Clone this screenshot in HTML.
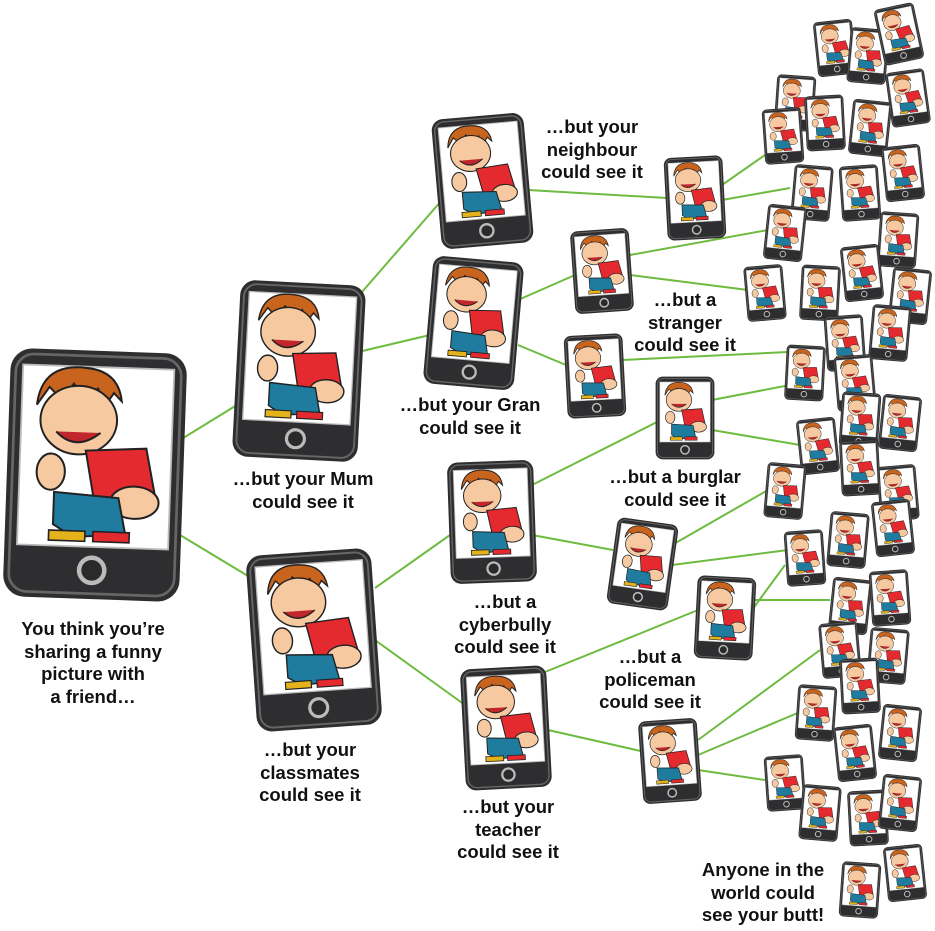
<!DOCTYPE html>
<html><head><meta charset="utf-8">
<style>
html,body{margin:0;padding:0;background:#fff;}
body{width:935px;height:931px;position:relative;overflow:hidden;font-family:"Liberation Sans",Arial,sans-serif;}
svg{position:absolute;left:0;top:0;}
.t{position:absolute;text-align:center;font-weight:bold;font-size:18.5px;line-height:22.5px;color:#111;white-space:nowrap;transform:translateX(-50%);}
</style></head><body>
<svg width="935" height="931" viewBox="0 0 935 931">
<defs>
<symbol id="p" viewBox="0 0 100 140">
<rect x="1" y="1" width="98" height="138" rx="12" fill="#2e2e30"/>
<rect x="4" y="4" width="92" height="132" rx="10" fill="none" stroke="#666" stroke-width="1.5"/>
<rect x="8" y="10" width="84" height="100" fill="#fff" stroke="#bbb" stroke-width="1"/>
<circle cx="50" cy="123" r="7" fill="#2a2a2a" stroke="#bbb" stroke-width="2.5"/>
<g transform="translate(50 60) scale(1.12) translate(-50 -60)">
<path d="M20 35 Q22 14 44 16 Q60 17 62 32 L58 28 L54 34 L50 26 L44 32 L38 24 L32 32 L26 26 Z" fill="#c8641e" stroke="#222" stroke-width="1"/>
<ellipse cx="41" cy="42" rx="19" ry="17" fill="#f6c9a1" stroke="#222" stroke-width="1"/>
<path d="M30 48 Q40 58 52 48" fill="#c0262b" stroke="#222" stroke-width="1"/>
<path d="M45 57 L75 55 L80 78 L50 82 Z" fill="#e52a2f" stroke="#222" stroke-width="1"/>
<ellipse cx="70" cy="82" rx="12" ry="8" fill="#f6c9a1" stroke="#222" stroke-width="1"/>
<path d="M30 78 L62 80 L66 98 L40 100 L30 94 Z" fill="#1f7c9f" stroke="#222" stroke-width="1"/>
<ellipse cx="28" cy="68" rx="7" ry="9" fill="#f6c9a1" stroke="#222" stroke-width="1"/>
<rect x="28" y="97" width="18" height="5" fill="#e5b21b" stroke="#222" stroke-width="0.8"/>
<rect x="50" y="97" width="18" height="5" fill="#e52a2f" stroke="#222" stroke-width="0.8"/>
</g>
</symbol>
</defs>
<g stroke="#6dbb3f" stroke-width="2" fill="none">
<line x1="180" y1="440" x2="245" y2="400"/>
<line x1="180" y1="535" x2="258" y2="582"/>
<line x1="355" y1="300" x2="442" y2="200"/>
<line x1="358" y1="352" x2="430" y2="335"/>
<line x1="375" y1="588" x2="450" y2="535"/>
<line x1="375" y1="640" x2="465" y2="705"/>
<line x1="528" y1="190" x2="667" y2="198"/>
<line x1="518" y1="300" x2="575" y2="275"/>
<line x1="518" y1="345" x2="566" y2="365"/>
<line x1="532" y1="485" x2="657" y2="422"/>
<line x1="532" y1="535" x2="613" y2="550"/>
<line x1="545" y1="672" x2="698" y2="610"/>
<line x1="548" y1="730" x2="645" y2="752"/>
<line x1="722" y1="185" x2="765" y2="155"/>
<line x1="722" y1="200" x2="790" y2="188"/>
<line x1="630" y1="255" x2="768" y2="230"/>
<line x1="630" y1="275" x2="748" y2="290"/>
<line x1="622" y1="360" x2="788" y2="352"/>
<line x1="712" y1="400" x2="790" y2="385"/>
<line x1="712" y1="430" x2="800" y2="445"/>
<line x1="672" y1="545" x2="768" y2="490"/>
<line x1="672" y1="565" x2="788" y2="550"/>
<line x1="752" y1="600" x2="830" y2="600"/>
<line x1="752" y1="610" x2="785" y2="565"/>
<line x1="698" y1="740" x2="820" y2="650"/>
<line x1="698" y1="755" x2="800" y2="712"/>
<line x1="698" y1="770" x2="765" y2="780"/>
</g>
<use href="#p" x="5" y="345" width="180" height="260" transform="rotate(2 95 475)"/>
<use href="#p" x="235" y="280" width="128" height="182" transform="rotate(3 299 371)"/>
<use href="#p" x="250" y="548" width="128" height="184" transform="rotate(-4 314 640)"/>
<use href="#p" x="435" y="115" width="95" height="132" transform="rotate(-5 482 181)"/>
<use href="#p" x="425" y="258" width="97" height="130" transform="rotate(5 473 323)"/>
<use href="#p" x="448" y="458" width="88" height="128" transform="rotate(-2 492 522)"/>
<use href="#p" x="462" y="665" width="88" height="126" transform="rotate(-3 506 728)"/>
<use href="#p" x="665" y="155" width="60" height="86" transform="rotate(-3 695 198)"/>
<use href="#p" x="572" y="228" width="60" height="86" transform="rotate(-4 602 271)"/>
<use href="#p" x="565" y="333" width="60" height="86" transform="rotate(-3 595 376)"/>
<use href="#p" x="655" y="375" width="60" height="86"/>
<use href="#p" x="610" y="520" width="65" height="88" transform="rotate(8 642 564)"/>
<use href="#p" x="695" y="575" width="60" height="86" transform="rotate(3 725 618)"/>
<use href="#p" x="640" y="718" width="60" height="86" transform="rotate(-4 670 761)"/>
<g>
<use href="#p" x="815" y="20" width="40" height="56" transform="rotate(-6 835 48)"/>
<use href="#p" x="848" y="28" width="40" height="56" transform="rotate(5 868 56)"/>
<use href="#p" x="878" y="5" width="42" height="58" transform="rotate(-12 899 34)"/>
<use href="#p" x="888" y="70" width="40" height="56" transform="rotate(-8 908 98)"/>
<use href="#p" x="775" y="75" width="40" height="56" transform="rotate(4 795 103)"/>
<use href="#p" x="805" y="95" width="40" height="56" transform="rotate(-3 825 123)"/>
<use href="#p" x="850" y="100" width="40" height="56" transform="rotate(6 870 128)"/>
<use href="#p" x="763" y="108" width="40" height="56" transform="rotate(-4 783 136)"/>
<use href="#p" x="883" y="145" width="40" height="56" transform="rotate(-6 903 173)"/>
<use href="#p" x="792" y="165" width="40" height="56" transform="rotate(5 812 193)"/>
<use href="#p" x="840" y="165" width="40" height="56" transform="rotate(-4 860 193)"/>
<use href="#p" x="765" y="205" width="40" height="56" transform="rotate(6 785 233)"/>
<use href="#p" x="878" y="212" width="40" height="56" transform="rotate(4 898 240)"/>
<use href="#p" x="745" y="265" width="40" height="56" transform="rotate(-5 765 293)"/>
<use href="#p" x="800" y="265" width="40" height="56" transform="rotate(3 820 293)"/>
<use href="#p" x="842" y="245" width="40" height="56" transform="rotate(-6 862 273)"/>
<use href="#p" x="890" y="268" width="40" height="56" transform="rotate(6 910 296)"/>
<use href="#p" x="825" y="315" width="40" height="56" transform="rotate(-4 845 343)"/>
<use href="#p" x="870" y="305" width="40" height="56" transform="rotate(5 890 333)"/>
<use href="#p" x="785" y="345" width="40" height="56" transform="rotate(3 805 373)"/>
<use href="#p" x="835" y="355" width="40" height="56" transform="rotate(-5 855 383)"/>
<use href="#p" x="880" y="395" width="40" height="56" transform="rotate(6 900 423)"/>
<use href="#p" x="798" y="418" width="40" height="56" transform="rotate(-6 818 446)"/>
<use href="#p" x="840" y="392" width="40" height="56" transform="rotate(4 860 420)"/>
<use href="#p" x="878" y="465" width="40" height="56" transform="rotate(-5 898 493)"/>
<use href="#p" x="765" y="463" width="40" height="56" transform="rotate(5 785 491)"/>
<use href="#p" x="840" y="440" width="40" height="56" transform="rotate(-3 860 468)"/>
<use href="#p" x="828" y="512" width="40" height="56" transform="rotate(5 848 540)"/>
<use href="#p" x="873" y="500" width="40" height="56" transform="rotate(-6 893 528)"/>
<use href="#p" x="785" y="530" width="40" height="56" transform="rotate(-4 805 558)"/>
<use href="#p" x="830" y="578" width="40" height="56" transform="rotate(6 850 606)"/>
<use href="#p" x="870" y="570" width="40" height="56" transform="rotate(-4 890 598)"/>
<use href="#p" x="820" y="622" width="40" height="56" transform="rotate(-5 840 650)"/>
<use href="#p" x="868" y="628" width="40" height="56" transform="rotate(5 888 656)"/>
<use href="#p" x="796" y="685" width="40" height="56" transform="rotate(4 816 713)"/>
<use href="#p" x="840" y="658" width="40" height="56" transform="rotate(-3 860 686)"/>
<use href="#p" x="880" y="705" width="40" height="56" transform="rotate(6 900 733)"/>
<use href="#p" x="835" y="725" width="40" height="56" transform="rotate(-6 855 753)"/>
<use href="#p" x="765" y="755" width="40" height="56" transform="rotate(-4 785 783)"/>
<use href="#p" x="800" y="785" width="40" height="56" transform="rotate(5 820 813)"/>
<use href="#p" x="848" y="790" width="40" height="56" transform="rotate(-3 868 818)"/>
<use href="#p" x="880" y="775" width="40" height="56" transform="rotate(6 900 803)"/>
<use href="#p" x="885" y="845" width="40" height="56" transform="rotate(-6 905 873)"/>
<use href="#p" x="840" y="862" width="40" height="56" transform="rotate(4 860 890)"/>
</g>
</svg>
<div class="t" style="left:93px;top:618px;">You think you’re<br>sharing a funny<br>picture with<br>a friend…</div>
<div class="t" style="left:303px;top:468px;">…but your Mum<br>could see it</div>
<div class="t" style="left:310px;top:739px;">…but your<br>classmates<br>could see it</div>
<div class="t" style="left:592px;top:116px;">…but your<br>neighbour<br>could see it</div>
<div class="t" style="left:470px;top:394px;">…but your Gran<br>could see it</div>
<div class="t" style="left:685px;top:289px;">…but a<br>stranger<br>could see it</div>
<div class="t" style="left:675px;top:466px;">…but a burglar<br>could see it</div>
<div class="t" style="left:505px;top:591px;">…but a<br>cyberbully<br>could see it</div>
<div class="t" style="left:650px;top:646px;">…but a<br>policeman<br>could see it</div>
<div class="t" style="left:508px;top:796px;">…but your<br>teacher<br>could see it</div>
<div class="t" style="left:763px;top:859px;">Anyone in the<br>world could<br>see your butt!</div>
</body></html>
